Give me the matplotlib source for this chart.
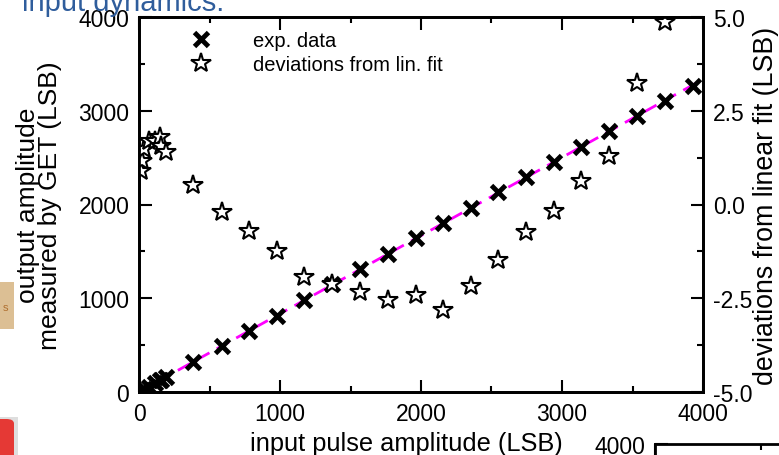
import numpy as np
import matplotlib
matplotlib.use('Agg')
import matplotlib.pyplot as plt
from matplotlib.ticker import MultipleLocator
from matplotlib.patches import Rectangle, FancyBboxPatch

plt.rcParams['font.family'] = ['Liberation Sans', 'DejaVu Sans']

# input pulse amplitude (LSB)
amp_in = [12, 24, 36, 68, 112, 150, 158, 190, 383, 589, 780, 979, 1170, 1369,
          1567, 1766, 1965, 2156, 2355, 2546, 2745, 2943, 3135, 3333, 3532, 3730, 3929]
# output amplitude measured by GET (LSB)
amp_out = [10, 20, 30, 56, 93, 125, 131, 158, 320, 491, 651, 811, 981, 1152,
           1312, 1472, 1643, 1803, 1963, 2133, 2293, 2453, 2613, 2784, 2944, 3104, 3264]
# deviations from the linear fit (LSB); the last point is off scale
deviation = [0.90, 1.17, 1.48, 1.70, 1.70, 1.79, 1.57, 1.41, 0.52, -0.20, -0.71, -1.24,
             -1.93, -2.12, -2.33, -2.55, -2.41, -2.81, -2.17, -1.48, -0.73, -0.17,
             0.63, 1.29, 3.24, 4.87]

W, H = 779, 456
fig = plt.figure(figsize=(W / 100, H / 100), dpi=100)

ax = fig.add_axes([139 / W, 1 - 393 / H, (703 - 139) / W, (393 - 18) / H])
ax2 = ax.twinx()

fit = np.polyfit(amp_in, amp_out, 1)
xf = np.array([0, 4000])
ax.plot(xf, np.polyval(fit, xf), color='#ff00ff', lw=2, dashes=(5, 3), zorder=2)
ax.plot(amp_in, amp_out, ls='none', marker='x', ms=10, mew=3.5, color='black',
        label='exp. data', zorder=3)
ax2.plot(amp_in[:len(deviation)], deviation, ls='none', marker='*', ms=15,
         mfc='white', mec='black', mew=1.5, label='deviations from lin. fit')

ax.set_xlim(0, 4000)
ax.set_ylim(0, 4000)
ax2.set_ylim(-5, 5)

ax.xaxis.set_major_locator(MultipleLocator(1000))
ax.xaxis.set_minor_locator(MultipleLocator(500))
ax.yaxis.set_major_locator(MultipleLocator(1000))
ax.yaxis.set_minor_locator(MultipleLocator(500))
ax2.yaxis.set_major_locator(MultipleLocator(2.5))
ax2.yaxis.set_minor_locator(MultipleLocator(1.25))
ax2.yaxis.set_major_formatter(plt.FormatStrFormatter('%.1f'))

for a in (ax, ax2):
    for s in a.spines.values():
        s.set_linewidth(2)
ax.tick_params(which='both', direction='in', top=True, right=False, width=1.5,
               labelsize=16.5, pad=7)
ax.tick_params(which='major', length=9)
ax.tick_params(which='minor', length=4.5)
ax2.tick_params(which='both', direction='in', width=1.5, labelsize=16.5, pad=7)
ax2.tick_params(which='major', length=9)
ax2.tick_params(which='minor', length=4.5)

ax.set_xlabel('input pulse amplitude (LSB)', fontsize=18.3)
ax.xaxis.set_label_coords(0.474, -0.105)
ax.set_ylabel('output amplitude\nmeasured by GET (LSB)', fontsize=19,
              linespacing=0.9)
ax.yaxis.set_label_coords(-0.136, 0.5)
ax2.set_ylabel('deviations from linear fit (LSB)', fontsize=19.3)
ax2.yaxis.set_label_coords(1.088, 0.5)

h1, l1 = ax.get_legend_handles_labels()
h2, l2 = ax2.get_legend_handles_labels()
ax2.legend(h1 + h2, l1 + l2, loc='upper left', bbox_to_anchor=(0.049, 1.0),
           frameon=False, fontsize=14.5, handletextpad=1.6, labelspacing=0.25,
           borderaxespad=0.3)

# slide title, partly cut off at the top edge
fig.text(22 / W, 1 - 11 / H, 'input dynamics:', fontsize=21, color='#2f5d9c',
         va='baseline', ha='left')

# side decorations of the slide
fig.patches.append(Rectangle((0, 1 - 330 / H), 14 / W, 47 / H, transform=fig.transFigure,
                             facecolor='#dcbf94', edgecolor='none'))
fig.text(3 / W, 1 - 308 / H, 's', fontsize=8, color='#b07030', va='center')
fig.patches.append(Rectangle((0, 0), 18 / W, 38 / H, transform=fig.transFigure,
                             facecolor='#c8c8c8', edgecolor='none', alpha=0.6))
fig.patches.append(FancyBboxPatch((-10 / W, -10 / H), 24 / W, 46 / H,
                                  boxstyle='round,pad=0,rounding_size=0.01',
                                  transform=fig.transFigure,
                                  facecolor='#e53935', edgecolor='none'))

# next panel peeking in at the lower right
ax3 = fig.add_axes([655 / W, -1.0, 0.3, 1.0 + (456 - 445) / H])
ax3.set_xlim(0, 1100)
ax3.set_ylim(0, 4000)
ax3.xaxis.set_major_locator(MultipleLocator(1000))
ax3.xaxis.set_minor_locator(MultipleLocator(500))
ax3.yaxis.set_major_locator(MultipleLocator(4000))
ax3.tick_params(which='both', direction='in', top=True, bottom=False, width=1.5,
                labelbottom=False, labelsize=16.5, pad=7)
ax3.tick_params(which='major', length=9)
ax3.tick_params(which='minor', length=4.5)
for s in ax3.spines.values():
    s.set_linewidth(2)

fig.savefig('out.png', dpi=100)
